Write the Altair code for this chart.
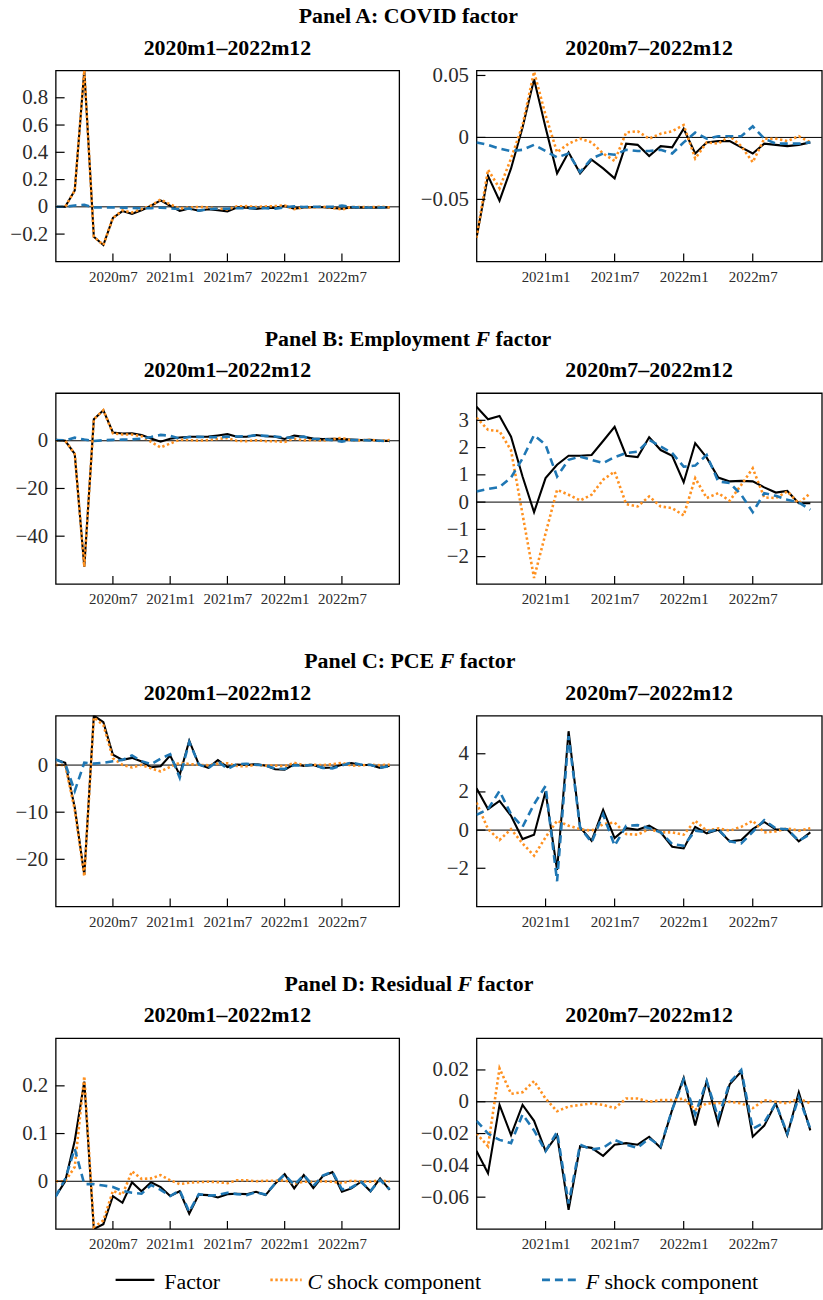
import json

import altair as alt
import pandas as pd

FONT = "Liberation Serif"
BLACK = "#000000"
ORANGE = "#ff9120"
BLUE = "#1f77b4"
LABEL_COLOR = "#2b2b2b"

N_MONTHS = 36  # 2020m1 .. 2022m12, index 0 = 2020m1
tick_months = [6, 12, 18, 24, 30]
tick_labels = ["2020m7", "2021m1", "2021m7", "2022m1", "2022m7"]

left_title = "2020m1\u20132022m12"
right_title = "2020m7\u20132022m12"
right_start = 6  # 2020m7

# ---- Panel A: COVID factor ----
covid_factor = [0, 0, 0.12, 1.0, -0.22, -0.28,
                -0.081, -0.031, -0.051, -0.025, 0.008, 0.047, 0.008, -0.029, -0.012, -0.029,
                -0.018, -0.025, -0.033, -0.005, -0.006, -0.015, -0.007, -0.008, 0.007, -0.013,
                -0.004, -0.003, -0.003, -0.008, -0.013, -0.005, -0.006, -0.007, -0.006, -0.004]
covid_c = [0, 0, 0.12, 1.0, -0.22, -0.28,
           -0.081, -0.026, -0.041, -0.017, 0.010, 0.053, 0.018, -0.012, -0.005, -0.001,
           -0.004, -0.013, -0.019, 0.004, 0.005, -0.001, 0.003, 0.005, 0.010, -0.017,
           -0.004, -0.005, 0.001, -0.007, -0.020, -0.001, -0.001, -0.003, 0.001, -0.004]
covid_f = [0, 0, 0.010, 0.015, -0.005, -0.005,
           -0.004, -0.006, -0.009, -0.011, -0.010, -0.006, -0.011, -0.016, -0.013, -0.028,
           -0.017, -0.013, -0.014, -0.010, -0.011, -0.011, -0.010, -0.013, -0.004, 0.004,
           -0.001, 0.001, 0.001, 0.001, 0.009, -0.001, -0.005, -0.005, -0.005, -0.004]

# ---- Panel B: Employment F factor ----
emp_factor = [0.4, 0, -5.5, -52.8, 9.0, 12.8,
              3.5, 3.04, 3.16, 2.4, 0.94, -0.37, 0.88, 1.37, 1.7, 1.7,
              1.73, 2.24, 2.76, 1.7, 1.65, 2.38, 1.91, 1.7, 0.73, 2.16,
              1.63, 0.9, 0.76, 0.78, 0.76, 0.54, 0.35, 0.41, -0.04, -0.04]
emp_c = [0, 0, -5.5, -52.8, 9.0, 12.8,
         3.1, 2.65, 2.6, 1.9, -0.45, -2.78, -1.15, 0.45, 0.27, 0.06,
         0.27, 0.82, 1.12, -0.07, -0.16, 0.21, -0.16, -0.22, -0.49, 0.88,
         0.15, 0.33, 0.05, 0.63, 1.24, 0.17, 0.15, 0.39, -0.04, 0.33]
emp_f = [0.3, 0.2, 1.3, 0.5, -0.1, 0.2,
         0.39, 0.48, 0.55, 0.9, 1.6, 2.46, 2.1, 0.94, 1.55, 1.67,
         1.55, 1.43, 1.65, 1.8, 1.85, 2.28, 2.04, 1.8, 1.3, 1.34,
         1.73, 0.76, 0.7, 0.27, -0.37, 0.33, 0.23, 0.09, -0.01, -0.28]

# ---- Panel C: PCE F factor ----
pce_factor = [1.2, 0.5, -9.0, -23.3, 10.5, 9.1,
              2.19, 1.1, 1.53, 0.75, -0.47, -0.24, 2.02, -2.09, 5.18, 0.14,
              -0.56, 1.06, -0.42, 0.1, 0.02, 0.23, -0.12, -0.87, -0.96, 0.17,
              -0.17, 0.02, -0.59, -0.52, 0.05, 0.43, 0.03, 0.03, -0.59, -0.12]
pce_c = [0, 0, -9.5, -23.6, 10.1, 8.5,
         1.44, 0.05, -0.52, 0.05, -0.7, -1.34, -0.38, 0.49, 0.23, 0.05,
         -0.03, 0.31, 0.4, -0.21, -0.24, 0.05, -0.12, -0.12, -0.24, 0.49,
         -0.03, 0.09, -0.03, 0.17, 0.49, -0.12, -0.07, 0.09, -0.03, 0.09]
pce_f = [1.2, 0.3, -5.5, 0.5, 0.3, 0.5,
         0.8, 1.1, 2.05, 0.83, 0.17, 1.36, 2.31, -2.68, 4.92, 0.14,
         -0.64, 0.83, -0.82, 0.23, 0.26, 0.1, -0.12, -0.73, -0.82, -0.03,
         -0.12, 0.05, -0.59, -0.7, -0.09, 0.52, 0.09, 0.05, -0.56, -0.21]

# ---- Panel D: Residual F factor ----
res_factor = [-0.032, 0.0, 0.085, 0.209, -0.1, -0.09,
              -0.031, -0.045, -0.002, -0.021, -0.002, -0.012, -0.031, -0.021, -0.068, -0.028,
              -0.029, -0.034, -0.027, -0.026, -0.027, -0.022, -0.029, -0.005, 0.015, -0.015,
              0.013, -0.014, 0.011, 0.019, -0.022, -0.015, -0.001, -0.021, 0.006, -0.018]
res_c = [0, 0, 0.03, 0.22, -0.096, -0.082,
         -0.020, -0.028, 0.021, 0.005, 0.006, 0.013, 0.002, -0.006, -0.003, -0.002,
         -0.001, -0.002, -0.004, 0.002, 0.002, 0.0, 0.001, 0.001, 0.002, -0.005,
         -0.001, -0.001, 0.0, -0.001, -0.004, 0.001, 0.0, -0.001, 0.002, -0.001]
res_f = [-0.032, 0.005, 0.068, -0.006, -0.006, -0.009,
         -0.012, -0.020, -0.024, -0.026, -0.008, -0.018, -0.031, -0.019, -0.064, -0.027,
         -0.030, -0.029, -0.024, -0.027, -0.029, -0.023, -0.028, -0.005, 0.014, -0.008,
         0.013, -0.010, 0.012, 0.020, -0.017, -0.013, -0.001, -0.020, 0.003, -0.017]

panels = [
    {
        "title": ("Panel A: COVID factor", None, None),
        "series": (covid_factor, covid_c, covid_f),
        "left": ([-0.4, 1.0], [-0.2, 0, 0.2, 0.4, 0.6, 0.8]),
        "right": ([-0.1, 0.054], [-0.05, 0, 0.05]),
    },
    {
        "title": ("Panel B: Employment", "F", "factor"),
        "series": (emp_factor, emp_c, emp_f),
        "left": ([-60, 20], [-40, -20, 0]),
        "right": ([-3, 4], [-2, -1, 0, 1, 2, 3]),
    },
    {
        "title": ("Panel C: PCE", "F", "factor"),
        "series": (pce_factor, pce_c, pce_f),
        "left": ([-30, 10.5], [-20, -10, 0]),
        "right": ([-4, 6], [-2, 0, 2, 4]),
    },
    {
        "title": ("Panel D: Residual", "F", "factor"),
        "series": (res_factor, res_c, res_f),
        "left": ([-0.1, 0.3], [0, 0.1, 0.2]),
        "right": ([-0.08, 0.04], [-0.06, -0.04, -0.02, 0, 0.02]),
    },
]

for p in panels:
    for s in p["series"]:
        assert len(s) == N_MONTHS

LEFT_W, RIGHT_W, H = 345.6, 347.4, 192
H_GAP, V_GAP = 77.4, 132.5
TITLE_FS = 22

# Horizontal anchor of the italic F in each panel heading (left-view pixels)
italic_anchor = {1: 422.3, 2: 386.3, 3: 404.3}

label_expr = "{}[round((datum.value - 6) / 6)]".format(json.dumps(tick_labels))

line_styles = [
    {"color": BLACK, "strokeWidth": 2.1},
    {"color": ORANGE, "strokeWidth": 2.6, "strokeDash": [2.4, 2.6]},
    {"color": BLUE, "strokeWidth": 2.6, "strokeDash": [8, 5]},
]

axis_common = dict(grid=False, domain=False, ticks=False, tickSize=0, labelFont=FONT,
                   labelColor=LABEL_COLOR, labelPadding=8, labelFlush=False,
                   labelOverlap=False)


def one_row():
    return pd.DataFrame({"k": [0]})


def text_at(text, x, y, size, align="left", weight="normal", style="normal", color=BLACK):
    return alt.Chart(one_row()).mark_text(
        text=text, font=FONT, fontSize=size, fontWeight=weight, fontStyle=style,
        align=align, baseline="alphabetic", color=color,
    ).encode(x=alt.value(x), y=alt.value(y))


def view(series, start, width, ydomain, yticks, subtitle):
    xt = [m for m in tick_months if m > start]
    x_enc = alt.X("t:Q", title=None,
                  scale=alt.Scale(domain=[start, N_MONTHS], nice=False, zero=False),
                  axis=alt.Axis(values=xt, labelExpr=label_expr, labelFontSize=15,
                                **axis_common))
    y_enc = alt.Y("value:Q", title=None,
                  scale=alt.Scale(domain=ydomain, nice=False, zero=False),
                  axis=alt.Axis(values=yticks, format="~r", labelFontSize=21,
                                **axis_common))

    layers = [
        alt.Chart(pd.DataFrame({"value": [0]})).mark_rule(color=BLACK, strokeWidth=1.0)
        .encode(y=y_enc)
    ]
    for values, style in zip(series, line_styles):
        frame = pd.DataFrame({"t": list(range(start, N_MONTHS)), "value": values[start:]})
        layers.append(alt.Chart(frame).mark_line(clip=True, **style).encode(x=x_enc, y=y_enc))

    # inward tick marks on the bottom and left edges
    layers.append(
        alt.Chart(pd.DataFrame({"t": xt})).mark_rule(color=BLACK, strokeWidth=1.2)
        .encode(x=x_enc, y=alt.value(H), y2=alt.value(H - 8))
    )
    layers.append(
        alt.Chart(pd.DataFrame({"value": yticks})).mark_rule(color=BLACK, strokeWidth=1.2)
        .encode(y=y_enc, x=alt.value(0), x2=alt.value(9))
    )
    layers.append(text_at(subtitle, width / 2, -16, TITLE_FS, align="center", weight="bold"))
    return layers


def heading(idx, title):
    prefix, ital, suffix = title
    if ital is None:
        return [text_at(prefix, 354.8, -47.5, TITLE_FS, align="center", weight="bold")]
    fx = italic_anchor[idx]
    space = 0.25 * TITLE_FS
    return [
        text_at(prefix, fx - space, -47.5, TITLE_FS, align="right", weight="bold"),
        text_at(ital, fx, -47.5, TITLE_FS, align="left", weight="bold", style="italic"),
        text_at(suffix, fx + 0.667 * TITLE_FS + space, -47.5, TITLE_FS, align="left", weight="bold"),
    ]


def legend_layers():
    ly, ty, fs = 243.2, 252.2, 22
    out = []
    swatches = [(60.3, 99.3, line_styles[0]), (216.0, 247.5, line_styles[1]), (489.3, 525.3, line_styles[2])]
    for x1, x2, style in swatches:
        kw = {"color": style["color"], "strokeWidth": style["strokeWidth"]}
        if "strokeDash" in style:
            kw["strokeDash"] = style["strokeDash"]
        out.append(alt.Chart(one_row()).mark_rule(**kw)
                   .encode(x=alt.value(x1), x2=alt.value(x2), y=alt.value(ly)))
    out.append(text_at("Factor", 109.3, ty, fs))
    out.append(text_at("C", 253.3, ty, fs, style="italic"))
    out.append(text_at("shock component", 253.3 + 0.667 * fs + 0.25 * fs, ty, fs))
    out.append(text_at("F", 533.3, ty, fs, style="italic"))
    out.append(text_at("shock component", 533.3 + 0.611 * fs + 0.25 * fs, ty, fs))
    return out


cells = []
for i, p in enumerate(panels):
    left_layers = view(p["series"], 0, LEFT_W, p["left"][0], p["left"][1], left_title)
    left_layers += heading(i, p["title"])
    if i == len(panels) - 1:
        left_layers += legend_layers()
    cells.append(alt.layer(*left_layers).properties(width=LEFT_W, height=H))
    cells.append(alt.layer(*view(p["series"], right_start, RIGHT_W, p["right"][0], p["right"][1],
                                 right_title)).properties(width=RIGHT_W, height=H))

chart = (
    alt.concat(*cells, columns=2, spacing={"row": V_GAP, "column": H_GAP}, bounds="flush")
    .properties(padding={"left": 9, "top": 0, "right": 0, "bottom": 0}, background="white")
    .configure_view(stroke=BLACK, strokeWidth=1.3)
)

chart.save("out.html", embed_options={"renderer": "svg", "actions": False})
